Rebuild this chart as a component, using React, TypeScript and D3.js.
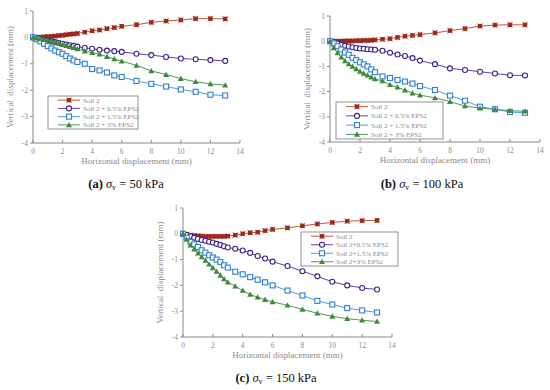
import React from "react";
import * as d3 from "d3";

const xs = [0, 0.25, 0.5, 0.75, 1, 1.25, 1.5, 1.75, 2, 2.25, 2.5, 2.75, 3, 3.5, 4, 4.5, 5, 5.5, 6, 7, 8, 9, 10, 11, 12, 13];
const seriesNames = ["Soil 2", "Soil 2 + 0.5% EPS2", "Soil 2 + 1.5% EPS2", "Soil 2 + 3% EPS2"];
const seriesNamesC = ["Soil 2", "Soil 2+0.5% EPS2", "Soil 2+1.5% EPS2", "Soil 2+3% EPS2"];
const xTicks = [0, 2, 4, 6, 8, 10, 12, 14];
const yTicks = [1, 0, -1, -2, -3, -4];

const a0 = [0, 0, 0.01, 0.02, 0.03, 0.04, 0.05, 0.07, 0.08, 0.1, 0.12, 0.13, 0.15, 0.2, 0.25, 0.28, 0.33, 0.37, 0.42, 0.48, 0.57, 0.62, 0.66, 0.71, 0.71, 0.7];
const a1 = [0, -0.03, -0.06, -0.09, -0.12, -0.15, -0.18, -0.21, -0.24, -0.27, -0.3, -0.32, -0.35, -0.4, -0.43, -0.47, -0.5, -0.52, -0.55, -0.62, -0.67, -0.74, -0.8, -0.83, -0.86, -0.89];
const a2 = [0, -0.07, -0.15, -0.24, -0.33, -0.42, -0.5, -0.56, -0.62, -0.71, -0.8, -0.87, -0.93, -1.0, -1.2, -1.25, -1.33, -1.44, -1.5, -1.65, -1.76, -1.86, -1.97, -2.06, -2.17, -2.2];
const a3 = [0, -0.03, -0.06, -0.08, -0.11, -0.15, -0.19, -0.23, -0.28, -0.31, -0.35, -0.39, -0.44, -0.52, -0.58, -0.64, -0.73, -0.82, -0.9, -1.06, -1.27, -1.41, -1.56, -1.68, -1.76, -1.81];

const b0 = [0, 0, 0, 0, 0.01, 0.01, 0.01, 0.02, 0.02, 0.03, 0.03, 0.04, 0.05, 0.08, 0.1, 0.15, 0.2, 0.23, 0.26, 0.33, 0.42, 0.5, 0.6, 0.64, 0.65, 0.65];
const b1 = [0, -0.03, -0.09, -0.14, -0.18, -0.21, -0.24, -0.27, -0.29, -0.3, -0.32, -0.33, -0.34, -0.38, -0.46, -0.53, -0.59, -0.67, -0.77, -0.91, -1.08, -1.14, -1.21, -1.28, -1.35, -1.36];
const b2 = [0, -0.09, -0.2, -0.33, -0.45, -0.54, -0.66, -0.75, -0.84, -0.92, -1.0, -1.12, -1.23, -1.4, -1.46, -1.54, -1.6, -1.68, -1.78, -1.94, -2.16, -2.36, -2.6, -2.7, -2.81, -2.84];
const b3 = [0, -0.27, -0.47, -0.63, -0.78, -0.9, -1.0, -1.1, -1.2, -1.28, -1.35, -1.43, -1.5, -1.58, -1.73, -1.83, -1.94, -2.06, -2.14, -2.25, -2.4, -2.57, -2.66, -2.7, -2.76, -2.78];

const c0 = [0, -0.02, -0.05, -0.07, -0.08, -0.09, -0.1, -0.1, -0.1, -0.1, -0.1, -0.1, -0.09, -0.05, 0, 0.04, 0.06, 0.12, 0.17, 0.23, 0.31, 0.38, 0.44, 0.49, 0.51, 0.52];
const c1 = [0, -0.04, -0.09, -0.15, -0.2, -0.24, -0.27, -0.31, -0.34, -0.39, -0.43, -0.48, -0.53, -0.58, -0.65, -0.74, -0.86, -0.96, -1.08, -1.25, -1.45, -1.65, -1.86, -2.0, -2.1, -2.16];
const c2 = [0, -0.15, -0.31, -0.41, -0.51, -0.64, -0.73, -0.83, -0.92, -1.0, -1.09, -1.22, -1.31, -1.47, -1.57, -1.68, -1.78, -1.88, -2.0, -2.2, -2.39, -2.6, -2.74, -2.88, -2.97, -3.05];
const c3 = [0, -0.22, -0.44, -0.6, -0.75, -0.9, -1.03, -1.18, -1.32, -1.46, -1.61, -1.75, -1.88, -2.03, -2.2, -2.35, -2.46, -2.55, -2.64, -2.77, -2.93, -3.08, -3.2, -3.29, -3.35, -3.4];

const lineColors = ["#c0583a", "#6a3aa8", "#4d9be6", "#4f9a4f"];
const markColors = ["#9c2a1c", "#3a1e8c", "#2f7fd6", "#3c8a3c"];
const AX = "#8a8a8a";
const FONT = "Liberation Serif, Times New Roman, serif";

function Marker({ kind, x, y }: { kind: number; x: number; y: number }) {
  if (kind === 0) {
    return (
      <g>
        <rect x={x - 2.2} y={y - 2.2} width={4.4} height={4.4} fill={markColors[0]} />
        <path d={`M${x - 2.6},${y - 2.6}L${x + 2.6},${y + 2.6}M${x - 2.6},${y + 2.6}L${x + 2.6},${y - 2.6}`} stroke={markColors[0]} strokeWidth={0.8} />
      </g>
    );
  }
  if (kind === 1) return <circle cx={x} cy={y} r={2.5} fill="white" stroke={markColors[1]} strokeWidth={1.1} />;
  if (kind === 2) return <rect x={x - 2.5} y={y - 2.5} width={5} height={5} fill="white" stroke={markColors[2]} strokeWidth={1.1} />;
  return <path d={`M${x},${y - 3}L${x + 3},${y + 2.3}L${x - 3},${y + 2.3}Z`} fill={markColors[3]} />;
}

type PanelProps = {
  left: number; right: number; top: number; bottom: number;
  data: number[][];
  names: string[];
  legend: { x: number; y: number; w: number; h: number };
};

function Panel({ left, right, top, bottom, data, names, legend }: PanelProps) {
  const x = d3.scaleLinear().domain([0, 14]).range([left, right]);
  const y = d3.scaleLinear().domain([-4, 1]).range([bottom, top]);
  const line = d3.line<number>().x((_, i) => x(xs[i])).y((d) => y(d));
  const rowH = legend.h / 4;
  return (
    <g fontFamily={FONT}>
      <line x1={left} x2={left} y1={top} y2={bottom} stroke={AX} strokeWidth={1} />
      <line x1={left} x2={right} y1={bottom} y2={bottom} stroke={AX} strokeWidth={1} />
      {yTicks.map((t) => (
        <g key={"y" + t}>
          <line x1={left - 3} x2={left} y1={y(t)} y2={y(t)} stroke={AX} />
          <text x={left - 5} y={y(t) + 2.5} fontSize={7.5} fill={AX} textAnchor="end">{t}</text>
        </g>
      ))}
      {xTicks.map((t) => (
        <g key={"x" + t}>
          <line x1={x(t)} x2={x(t)} y1={bottom} y2={bottom - 3} stroke={AX} />
          <text x={x(t)} y={bottom + 11} fontSize={7.5} fill={AX} textAnchor="middle">{t}</text>
        </g>
      ))}
      <text x={(left + right) / 2} y={bottom + 21} fontSize={9} fill={AX} textAnchor="middle">Horizontal displacement (mm)</text>
      <text transform={`translate(${left - 20},${(top + bottom) / 2}) rotate(-90)`} fontSize={9} fill={AX} textAnchor="middle" xmlSpace="preserve">Vertical  displacement (mm)</text>
      {data.map((s, k) => (
        <g key={"s" + k}>
          <path d={line(s) || ""} fill="none" stroke={lineColors[k]} strokeWidth={1} />
          {s.map((v, i) => <Marker key={i} kind={k} x={x(xs[i])} y={y(v)} />)}
        </g>
      ))}
      <rect x={legend.x} y={legend.y} width={legend.w} height={legend.h} fill="white" stroke="#777" strokeWidth={0.8} />
      {names.map((n, k) => {
        const cy = legend.y + rowH * (k + 0.5);
        const lx0 = legend.x + 10;
        const lx1 = legend.x + 32;
        return (
          <g key={"l" + k}>
            <line x1={lx0} x2={lx1} y1={cy} y2={cy} stroke={lineColors[k]} strokeWidth={1} />
            <Marker kind={k} x={(lx0 + lx1) / 2} y={cy} />
            <text x={lx1 + 3} y={cy + 2.4} fontSize={7} fill={AX}>{n}</text>
          </g>
        );
      })}
    </g>
  );
}

function Caption({ x, y, label, value }: { x: number; y: number; label: string; value: string }) {
  return (
    <text x={x} y={y} fontSize={12.5} fontFamily={FONT} fill="#111" textAnchor="middle">
      <tspan fontWeight="bold">{label}</tspan>
      <tspan> </tspan>
      <tspan fontStyle="italic">σ</tspan>
      <tspan fontSize={8} dy={2}>v</tspan>
      <tspan dy={-2}>{` = ${value}`}</tspan>
    </text>
  );
}

export default function App() {
  return (
    <svg width={550} height={390} style={{ position: "absolute", left: 0, top: 0, background: "white" }}>
      <rect x={0} y={0} width={550} height={390} fill="white" />
      <Panel left={33} right={240} top={11} bottom={143} data={[a0, a1, a2, a3]} names={seriesNames}
        legend={{ x: 48, y: 96, w: 90, h: 33 }} />
      <Panel left={330} right={540} top={16} bottom={142} data={[b0, b1, b2, b3]} names={seriesNames}
        legend={{ x: 336, y: 102, w: 107, h: 37 }} />
      <Panel left={183} right={392} top={208} bottom={337} data={[c0, c1, c2, c3]} names={seriesNamesC}
        legend={{ x: 301, y: 232, w: 97, h: 34 }} />
      <Caption x={126} y={188} label="(a)" value="50 kPa" />
      <Caption x={422} y={188} label="(b)" value="100 kPa" />
      <Caption x={276} y={382} label="(c)" value="150 kPa" />
    </svg>
  );
}
